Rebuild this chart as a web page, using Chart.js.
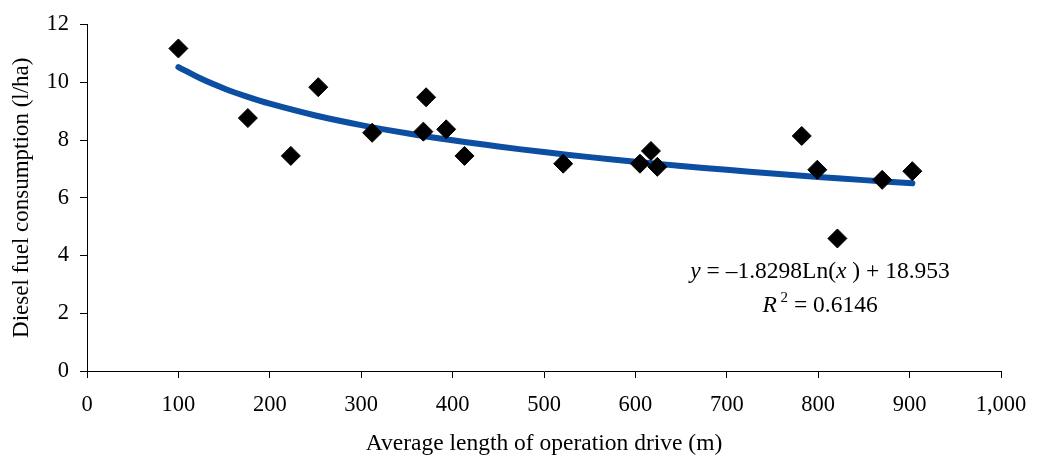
<!DOCTYPE html>
<html lang="en">

<head>
    <meta charset="UTF-8">
    <title>Diesel fuel consumption</title>
    <script src="https://cdn.jsdelivr.net/npm/chart.js"></script>
    <style>
        html, body { margin: 0; padding: 0; background: #fff; }
        #wrap { width: 1037px; height: 459px; }
    </style>
</head>

<body>
    <div id="wrap"><canvas id="fuelChart" width="1037" height="459"></canvas></div>

    <script>
        // Measured points
        const driveLength = [100, 176, 223, 253, 312, 371, 368, 393, 413, 521, 605, 617, 624, 782, 799, 821, 870, 903];
        const fuelUse = [11.17, 8.76, 7.45, 9.83, 8.25, 9.48, 8.29, 8.37, 7.45, 7.18, 7.18, 7.62, 7.07, 8.14, 6.97, 4.59, 6.62, 6.92];

        // Logarithmic trend as printed on the chart
        const trendSlope = -1.8298;
        const trendIntercept = 18.953;
        const trendX = [100, 125, 150, 175, 200, 250, 300, 350, 400, 450, 500, 550, 600, 650, 700, 750, 800, 850, 903];

        const xTicks = [0, 100, 200, 300, 400, 500, 600, 700, 800, 900, 1000];
        const yTicks = [0, 2, 4, 6, 8, 10, 12];

        const serif = '"Liberation Serif", "Times New Roman", serif';

        const points = driveLength.map((x, i) => ({ x: x, y: fuelUse[i] }));
        const trend = trendX.map(x => ({ x: x, y: trendSlope * Math.log(x) + trendIntercept }));

        // draws text made of differently styled pieces, centred on cx
        function drawPieces(ctx, pieces, cx, baseY) {
            let total = 0;
            pieces.forEach(p => { ctx.font = p.font; total += ctx.measureText(p.text).width; });
            let x = cx - total / 2;
            pieces.forEach(p => {
                ctx.font = p.font;
                ctx.fillText(p.text, x, baseY + (p.dy || 0));
                x += ctx.measureText(p.text).width;
            });
        }

        const equationLabel = {
            id: 'equationLabel',
            afterDatasetsDraw(chart) {
                const ctx = chart.ctx;
                const xs = chart.scales.x, ys = chart.scales.y;
                const cx = xs.getPixelForValue(802);
                const norm = '23.5px ' + serif, ital = 'italic 23.5px ' + serif;
                ctx.save();
                ctx.fillStyle = '#000';
                ctx.textBaseline = 'alphabetic';
                ctx.textAlign = 'left';
                drawPieces(ctx, [
                    { text: 'y', font: ital },
                    { text: ' = \u20131.8298Ln(', font: norm },
                    { text: 'x', font: ital },
                    { text: ' ) + 18.953', font: norm }
                ], cx, ys.getPixelForValue(3.22));
                drawPieces(ctx, [
                    { text: 'R', font: ital },
                    { text: ' 2', font: '15px ' + serif, dy: -10 },
                    { text: ' = 0.6146', font: norm }
                ], cx, ys.getPixelForValue(2.05));
                ctx.restore();
            }
        };

        const ctx = document.getElementById('fuelChart').getContext('2d');
        new Chart(ctx, {
            type: 'scatter',
            data: {
                datasets: [
                    {
                        label: 'Trend',
                        type: 'line',
                        data: trend,
                        borderColor: '#0b4ea2',
                        borderWidth: 6,
                        borderCapStyle: 'round',
                        pointRadius: 0,
                        tension: 0.4,
                        fill: false,
                        order: 2
                    },
                    {
                        label: 'Measured',
                        data: points,
                        pointStyle: 'rectRot',
                        pointRadius: 9.5,
                        backgroundColor: '#000',
                        borderColor: '#000',
                        borderWidth: 1,
                        order: 1
                    }
                ]
            },
            options: {
                responsive: false,
                animation: false,
                layout: { padding: { left: 0, top: 23, right: 36, bottom: 0 } },
                plugins: {
                    legend: { display: false },
                    tooltip: { enabled: false }
                },
                scales: {
                    x: {
                        type: 'linear',
                        min: 0,
                        max: 1000,
                        afterBuildTicks: s => { s.ticks = xTicks.map(v => ({ value: v })); },
                        afterFit: s => { s.height = 88; s.paddingLeft = 0; s.paddingRight = 0; },
                        border: { display: true, color: '#000', width: 1 },
                        grid: { display: true, drawOnChartArea: false, drawTicks: true, tickLength: 7, color: '#000' },
                        ticks: {
                            color: '#000',
                            padding: 14,
                            font: { family: serif, size: 22.5 },
                            callback: v => v.toLocaleString('en-US')
                        },
                        title: {
                            display: true,
                            text: 'Average length of operation drive (m)',
                            color: '#000',
                            font: { family: serif, size: 23.5 },
                            padding: { top: 0, bottom: 1 }
                        }
                    },
                    y: {
                        min: 0,
                        max: 12,
                        afterBuildTicks: s => { s.ticks = yTicks.map(v => ({ value: v })); },
                        afterFit: s => { s.width = 87; },
                        border: { display: true, color: '#000', width: 1 },
                        grid: { display: true, drawOnChartArea: false, drawTicks: true, tickLength: 7, color: '#000' },
                        ticks: {
                            color: '#000',
                            padding: 11,
                            font: { family: serif, size: 22.5 }
                        },
                        title: {
                            display: true,
                            text: 'Diesel fuel consumption (l/ha)',
                            color: '#000',
                            font: { family: serif, size: 23 },
                            padding: { top: 8, bottom: 0 }
                        }
                    }
                }
            },
            plugins: [equationLabel]
        });
    </script>
</body>

</html>
